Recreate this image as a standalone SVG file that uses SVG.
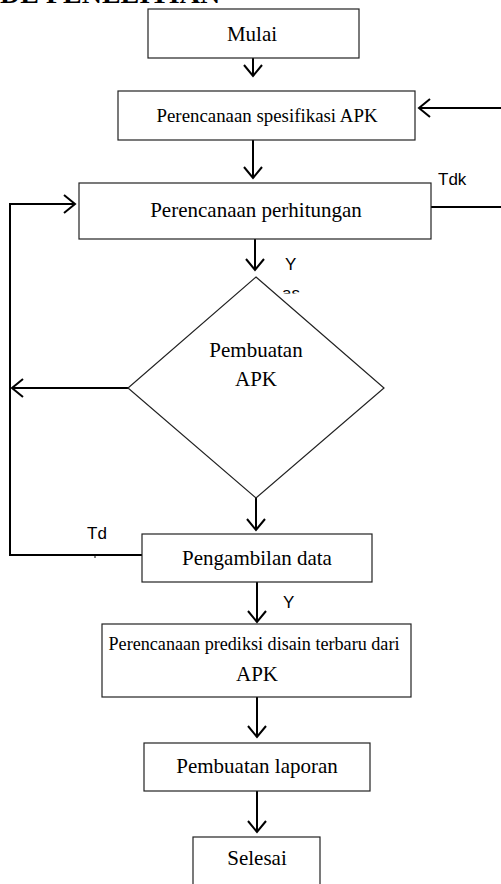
<svg xmlns="http://www.w3.org/2000/svg" width="501" height="884" viewBox="0 0 501 884">
<style>
.box{fill:#fff;stroke:#222;stroke-width:1.2}
.t{font-family:"Liberation Serif","Times New Roman",serif;font-size:21px;fill:#000;text-anchor:middle}
.s{font-family:"Liberation Sans",Arial,sans-serif;font-size:17px;fill:#000}
.c{fill:none;stroke:#000;stroke-width:2}
</style>
<defs>
<marker id="ah" markerUnits="userSpaceOnUse" markerWidth="30" markerHeight="30" viewBox="-15 -15 30 30" refX="0" refY="0" orient="auto">
<path d="M-11,-9 L0,0 L-11,9" fill="none" stroke="#000" stroke-width="2"/>
</marker>
<clipPath id="clipAs"><rect x="270" y="280" width="40" height="13.5"/></clipPath>
</defs>
<text x="0" y="3" style="font-family:'Liberation Serif',serif;font-size:28px;font-weight:bold">DE PENELITIAN</text>
<g id="connectors">
<path class="c" d="M253,58 V76" marker-end="url(#ah)"/>
<path class="c" d="M501,108 H419" marker-end="url(#ah)"/>
<path class="c" d="M253,140 V178" marker-end="url(#ah)"/>
<path class="c" d="M431,207 H501"/>
<path class="c" d="M255,239 V270" marker-end="url(#ah)"/>
<path class="c" d="M128,388 H12" marker-end="url(#ah)"/>
<path class="c" d="M256,498 V530" marker-end="url(#ah)"/>
<path class="c" d="M142,555 H10 V204 H75" marker-end="url(#ah)"/>
<path d="M95,555 V558" stroke="#000" stroke-width="1"/>
<path class="c" d="M257,582 V622" marker-end="url(#ah)"/>
<path class="c" d="M257,697 V737" marker-end="url(#ah)"/>
<path class="c" d="M257,791 V832" marker-end="url(#ah)"/>
</g>
<g id="labels">
<text class="s" x="438" y="185">Tdk</text>
<text class="s" x="285" y="270">Y</text>
<text class="s" x="282" y="299" clip-path="url(#clipAs)">as</text>
<text class="s" x="87" y="539">Td</text>
<text class="s" x="283" y="608">Y</text>
</g>
<g id="mulai">
<rect class="box" x="148" y="9" width="211" height="49"/>
<text class="t" x="252" y="41">Mulai</text>
</g>
<g id="spesifikasi">
<rect class="box" x="118" y="91" width="297" height="49"/>
<text class="t" x="267" y="122" style="font-size:19px" textLength="221" lengthAdjust="spacingAndGlyphs">Perencanaan spesifikasi APK</text>
</g>
<g id="perhitungan">
<rect class="box" x="79" y="183" width="352" height="56"/>
<text class="t" x="256" y="217">Perencanaan perhitungan</text>
</g>
<g id="pembuatan-apk">
<polygon class="box" points="256,277 384,388 256,498 128,388"/>
<text class="t" x="256" y="357">Pembuatan</text>
<text class="t" x="256" y="386">APK</text>
</g>
<g id="pengambilan">
<rect class="box" x="142" y="534" width="230" height="48"/>
<text class="t" x="257" y="565">Pengambilan data</text>
</g>
<g id="prediksi">
<rect class="box" x="102" y="624" width="309" height="73"/>
<text class="t" x="254" y="650" style="font-size:19px" textLength="291" lengthAdjust="spacingAndGlyphs">Perencanaan prediksi disain terbaru dari</text>
<text class="t" x="257" y="681">APK</text>
</g>
<g id="laporan">
<rect class="box" x="144" y="743" width="226" height="48"/>
<text class="t" x="257" y="773">Pembuatan laporan</text>
</g>
<g id="selesai">
<rect class="box" x="193" y="837" width="127" height="60"/>
<text class="t" x="257" y="865">Selesai</text>
</g>
</svg>
